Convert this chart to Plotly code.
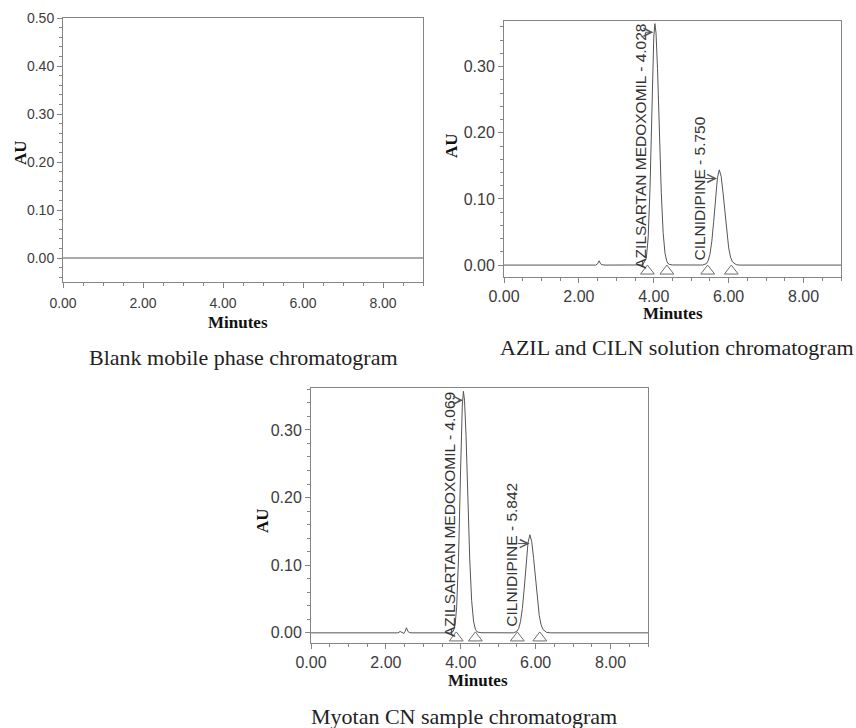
import plotly.graph_objects as go

# ---------------- data ----------------
blank_t = [0.00, 1.00, 2.50, 4.10, 6.00, 9.00]
blank_au = [0.000, 0.000, 0.000, 0.000, 0.000, 0.000]

std_t = [0.00, 1.00, 2.00, 2.45, 2.50, 2.54, 2.58, 2.62, 2.70, 3.00, 3.50, 3.70,
         3.80, 3.85, 3.90, 3.95, 3.98, 4.00, 4.03, 4.06, 4.10, 4.15, 4.20, 4.25,
         4.30, 4.35, 4.40, 4.50, 5.00, 5.30, 5.40, 5.45, 5.50, 5.55, 5.60, 5.65,
         5.70, 5.75, 5.80, 5.85, 5.90, 5.95, 6.00, 6.05, 6.10, 6.20, 6.30, 7.00,
         8.00, 9.00]
std_au = [0.000, 0.000, 0.000, 0.000, 0.002, 0.0065, 0.002, 0.0005, 0.000, 0.000, 0.000, 0.0002,
          0.010, 0.041, 0.117, 0.239, 0.310, 0.345, 0.365, 0.351, 0.297, 0.201, 0.110, 0.049,
          0.018, 0.0053, 0.0013, 0.0002, 0.000, 0.0001, 0.002, 0.0063, 0.0164, 0.036, 0.066, 0.102,
          0.132, 0.144, 0.134, 0.109, 0.078, 0.048, 0.026, 0.012, 0.005, 0.0006, 0.000, 0.000,
          0.000, 0.000]
std_marks_t = [3.83, 4.35, 5.44, 6.07]

smp_t = [0.00, 1.00, 2.00, 2.32, 2.38, 2.44, 2.48, 2.51, 2.55, 2.59, 2.63, 2.70,
         3.00, 3.50, 3.70, 3.80, 3.85, 3.89, 3.94, 3.99, 4.02, 4.04, 4.07, 4.10,
         4.14, 4.19, 4.24, 4.29, 4.34, 4.39, 4.44, 4.54, 5.00, 5.40, 5.495, 5.545,
         5.595, 5.645, 5.695, 5.745, 5.795, 5.845, 5.895, 5.945, 5.995, 6.045, 6.095,
         6.145, 6.195, 6.295, 6.40, 7.00, 8.00, 9.00]
smp_au = [0.000, 0.000, 0.000, 0.000, 0.002, 0.000, -0.0008, 0.002, 0.0075, 0.002, 0.0004, 0.000,
          0.000, 0.000, 0.000, 0.0023, 0.0126, 0.038, 0.111, 0.229, 0.300, 0.335, 0.357, 0.344,
          0.292, 0.197, 0.108, 0.048, 0.0175, 0.0052, 0.0013, 0.0002, 0.000, 0.000, 0.002, 0.0064,
          0.0165, 0.036, 0.066, 0.103, 0.133, 0.145, 0.135, 0.110, 0.078, 0.048, 0.026,
          0.012, 0.005, 0.0006, 0.000, 0.000, 0.000, 0.000]
smp_marks_t = [3.88, 4.39, 5.51, 6.11]

std_labels = ["AZILSARTAN MEDOXOMIL - 4.028", "CILNIDIPINE - 5.750"]
smp_labels = ["AZILSARTAN MEDOXOMIL - 4.069", "CILNIDIPINE - 5.842"]
captions = ["Blank mobile phase chromatogram",
            "AZIL and CILN solution chromatogram",
            "Myotan CN sample chromatogram"]
x_title = "Minutes"
y_title = "AU"

# ---------------- styling ----------------
W, H = 856, 728
SANS = "Liberation Sans, Arial, sans-serif"
SERIF = "Liberation Serif, Times New Roman, serif"
FRAME = "#858585"
TRACE = "#555555"
TICKC = "#3c3c3c"


def fx(p):
    return p / W


def fy(p):
    return 1 - p / H


def xaxis(dom, anchor, font, standoff=None):
    d = dict(domain=[fx(dom[0]), fx(dom[1])], range=[0, 9], anchor=anchor,
             tick0=0, dtick=2, tickformat=".2f", ticks="outside", ticklen=5,
             tickcolor=FRAME, tickfont=font, automargin=False,
             minor=dict(ticks="outside", ticklen=3, tick0=0, dtick=0.5, tickcolor=FRAME),
             showline=True, mirror=True, linecolor=FRAME, linewidth=1,
             showgrid=False, zeroline=False, fixedrange=True)
    if standoff is not None:
        d["ticklabelstandoff"] = standoff
    return d


def yaxis(dom, anchor, rng, font):
    return dict(domain=[fy(dom[1]), fy(dom[0])], range=rng, anchor=anchor,
                tick0=0, dtick=0.1, tickformat=".2f", ticks="outside", ticklen=5,
                tickcolor=FRAME, tickfont=font, automargin=False,
                minor=dict(ticks="outside", ticklen=3, tick0=0, dtick=0.02, tickcolor=FRAME),
                showline=True, mirror=True, linecolor=FRAME, linewidth=1,
                showgrid=False, zeroline=False, fixedrange=True)


font_small = dict(family=SANS, size=14, color=TICKC)
font_std = dict(family=SANS, size=16, color=TICKC)

y1_rng = [-0.05, 0.50]
y2_rng = [-0.018, 0.369]
y3_rng = [-0.015, 0.362]

fig = go.Figure()
line = dict(color=TRACE, width=1)
fig.add_trace(go.Scatter(x=blank_t, y=blank_au, mode="lines", line=line, xaxis="x", yaxis="y"))
fig.add_trace(go.Scatter(x=std_t, y=std_au, mode="lines", line=line, xaxis="x2", yaxis="y2"))
fig.add_trace(go.Scatter(x=smp_t, y=smp_au, mode="lines", line=line, xaxis="x3", yaxis="y3"))

tri = dict(symbol="triangle-up-open", size=12, color="#6e6e6e", line=dict(width=1, color="#6e6e6e"))
fig.add_trace(go.Scatter(x=std_marks_t, y=[y2_rng[0] / 2] * len(std_marks_t), mode="markers",
                         marker=tri, xaxis="x2", yaxis="y2", cliponaxis=False))
fig.add_trace(go.Scatter(x=smp_marks_t, y=[y3_rng[0] / 2] * len(smp_marks_t), mode="markers",
                         marker=tri, xaxis="x3", yaxis="y3", cliponaxis=False))

annotations = []
lab_font = dict(family=SANS, size=15.5, color="#333333")


def peak_label(text, xref, yref, xc, yc):
    annotations.append(dict(text=text, x=xc, y=yc, xref=xref, yref=yref, textangle=-90,
                            showarrow=False, xanchor="center", yanchor="middle", font=lab_font))


def peak_arrow(xref, yref, x0, x1, yv):
    annotations.append(dict(text="", x=x1, y=yv, ax=x0, ay=yv, xref=xref, yref=yref,
                            axref=xref, ayref=yref, showarrow=True, arrowhead=5,
                            arrowsize=1.6, arrowwidth=1, arrowcolor="#555555", standoff=0))


peak_label(std_labels[0], "x2", "y2", 3.66, 0.179)
peak_arrow("x2", "y2", 3.73, 3.99, 0.352)
peak_label(std_labels[1], "x2", "y2", 5.195, 0.115)
peak_arrow("x2", "y2", 5.33, 5.69, 0.131)

peak_label(smp_labels[0], "x3", "y3", 3.70, 0.175)
peak_arrow("x3", "y3", 3.88, 4.06, 0.344)
peak_label(smp_labels[1], "x3", "y3", 5.33, 0.115)
peak_arrow("x3", "y3", 5.48, 5.84, 0.132)

title_font = dict(family=SERIF, size=17, color="#111111")
cap_font = dict(family=SERIF, size=22, color="#222222")


def ptext(text, x, y, font, angle=0):
    annotations.append(dict(text=text, x=fx(x), y=fy(y), xref="paper", yref="paper",
                            showarrow=False, xanchor="center", yanchor="middle",
                            textangle=angle, font=font))


ptext("<b>%s</b>" % x_title, 238, 322, title_font)
ptext("<b>%s</b>" % x_title, 673, 313, title_font)
ptext("<b>%s</b>" % x_title, 478, 680, title_font)
ptext("<b>%s</b>" % y_title, 20, 153, title_font, -90)
ptext("<b>%s</b>" % y_title, 452, 146, title_font, -90)
ptext("<b>%s</b>" % y_title, 262, 521, title_font, -90)
ptext(captions[0], 244, 357, cap_font)
ptext(captions[1], 677, 347, cap_font)
ptext(captions[2], 464, 716, cap_font)

fig.update_layout(
    width=W, height=H, margin=dict(l=0, r=0, t=0, b=0, autoexpand=False),
    paper_bgcolor="white", plot_bgcolor="white", showlegend=False,
    xaxis=xaxis((63, 423), "y", font_small, standoff=3),
    yaxis=yaxis((18, 282), "x", y1_rng, font_small),
    xaxis2=xaxis((504, 841), "y2", font_std),
    yaxis2=yaxis((21, 277), "x2", y2_rng, font_std),
    xaxis3=xaxis((311, 648), "y3", font_std),
    yaxis3=yaxis((388, 643), "x3", y3_rng, font_std),
    annotations=annotations,
)

fig.write_html("out.html", config={"displayModeBar": False})
